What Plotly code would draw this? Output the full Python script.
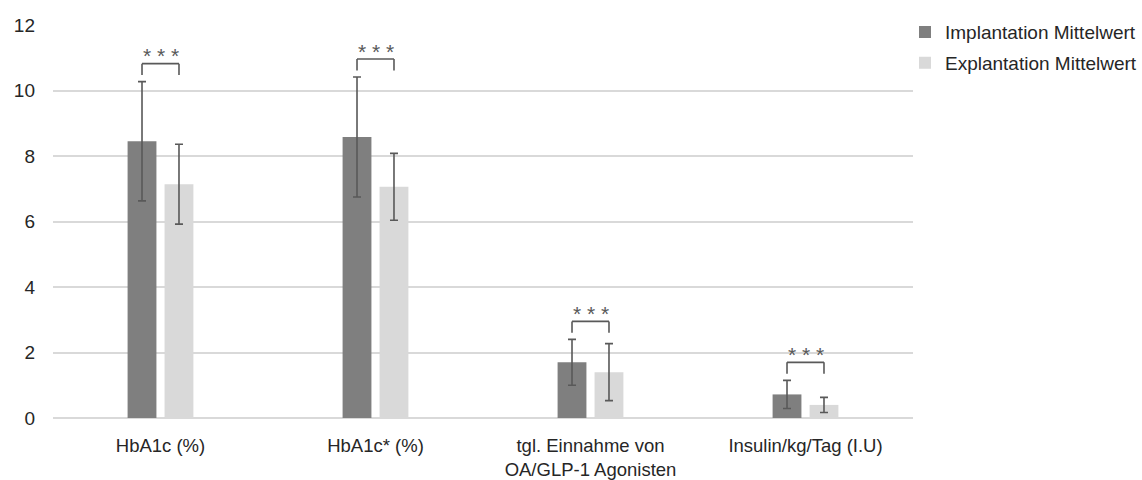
import plotly.graph_objects as go

categories = ["HbA1c (%)", "HbA1c* (%)", "tgl. Einnahme von<br>OA/GLP-1 Agonisten", "Insulin/kg/Tag (I.U)"]
impl_mean = [8.45, 8.58, 1.70, 0.72]
impl_sd = [1.82, 1.83, 0.70, 0.43]
expl_mean = [7.14, 7.06, 1.40, 0.40]
expl_sd = [1.22, 1.02, 0.87, 0.23]
significance = ["***", "***", "***", "***"]

DARK = "#7f7f7f"
LIGHT = "#d9d9d9"
ERR = "#595959"
TXT = "#262626"
FONT = "Liberation Sans, Arial, sans-serif"

fig = go.Figure()
fig.add_trace(go.Bar(
    x=categories, y=impl_mean, name="Implantation Mittelwert",
    marker=dict(color=DARK, line=dict(width=0)),
    error_y=dict(type="data", array=impl_sd, color=ERR, thickness=1.6, width=4),
    legendgroup="a",
))
fig.add_trace(go.Bar(
    x=categories, y=expl_mean, name="Explantation Mittelwert",
    marker=dict(color=LIGHT, line=dict(width=0)),
    error_y=dict(type="data", array=expl_sd, color=ERR, thickness=1.6, width=4),
    legendgroup="b",
))

# significance brackets
off = 0.086
for i, s in enumerate(significance):
    top = max(impl_mean[i] + impl_sd[i], expl_mean[i] + expl_sd[i]) + 0.55
    leg = top - 0.35
    x1, x2 = i - off, i + off
    for (a, b, c, d) in [(x1, leg, x1, top), (x1, top, x2, top), (x2, top, x2, leg)]:
        fig.add_shape(type="line", xref="x", yref="y", x0=a, y0=b, x1=c, y1=d,
                      line=dict(color=ERR, width=1.6))
    fig.add_annotation(x=i, y=top - 0.17, xref="x", yref="y", yanchor="bottom",
                       text=" ".join(s), showarrow=False,
                       font=dict(family=FONT, size=21, color=ERR))

fig.update_layout(
    width=1142, height=480,
    margin=dict(l=53, r=229, t=25, b=62, autoexpand=False),
    paper_bgcolor="white", plot_bgcolor="white",
    barmode="group", bargap=0.656, bargroupgap=0.22,
    font=dict(family=FONT, size=19, color=TXT),
    legend=dict(x=(905 - 53) / 860, y=1.03, xanchor="left", yanchor="top",
                font=dict(family=FONT, size=19, color=TXT),
                tracegroupgap=3, itemwidth=30, traceorder="grouped"),
)
fig.update_xaxes(type="category", showgrid=False, showline=False, ticks="",
                 tickfont=dict(size=18.5), ticklabelstandoff=14, automargin=False)
fig.update_yaxes(range=[0, 12], dtick=2, showgrid=True, gridcolor=LIGHT, gridwidth=1.5,
                 zeroline=True, zerolinecolor=LIGHT, zerolinewidth=1.5,
                 showline=False, ticks="", tickfont=dict(size=19), ticklabelstandoff=17,
                 automargin=False)

fig.write_html("out.html")
